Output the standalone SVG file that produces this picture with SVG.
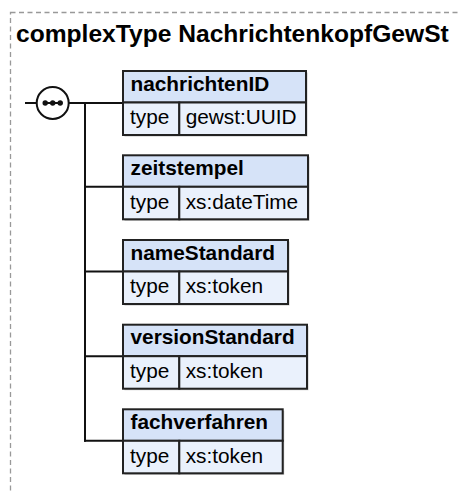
<svg xmlns="http://www.w3.org/2000/svg" width="461" height="493" viewBox="0 0 461 493">
<style>
  .frame { fill: none; stroke: #999; stroke-width: 1.3; stroke-dasharray: 5 3.5; }
  .title { font-family: "Liberation Sans", Arial, sans-serif; font-weight: bold; font-size: 24.6px; fill: #000; }
  .hdr { fill: #d6e3f8; stroke: #222; stroke-width: 2; }
  .row { fill: #eaf1fc; stroke: #222; stroke-width: 2; }
  .shadow { fill: #888; opacity: 0.5; }
  .name { font-family: "Liberation Sans", Arial, sans-serif; font-weight: bold; font-size: 20.8px; fill: #000; }
  .val { font-family: "Liberation Sans", Arial, sans-serif; font-size: 20.8px; fill: #000; }
  .line { fill: none; stroke: #111; stroke-width: 2; }
</style>
<rect x="0" y="0" width="461" height="493" fill="#fff"/>
<rect class="frame" x="10.5" y="12.5" width="470" height="500"/>
<text class="title" x="16" y="42">complexType NachrichtenkopfGewSt</text>

<g id="connectors">
  <line class="line" x1="25" y1="103" x2="36.5" y2="103"/>
  <line class="line" x1="69" y1="103" x2="123" y2="103"/>
  <line class="line" x1="85" y1="102" x2="85" y2="441.8"/>
  <line class="line" x1="85" y1="186.8" x2="123" y2="186.8"/>
  <line class="line" x1="85" y1="271.5" x2="123" y2="271.5"/>
  <line class="line" x1="85" y1="356.2" x2="123" y2="356.2"/>
  <line class="line" x1="84" y1="440.8" x2="123" y2="440.8"/>
</g>

<g id="sequence">
  <circle cx="52.7" cy="103" r="16" fill="#fff" stroke="#111" stroke-width="2"/>
  <line x1="43" y1="103" x2="62.5" y2="103" stroke="#111" stroke-width="2"/>
  <circle cx="45.2" cy="103" r="2.7" fill="#111"/>
  <circle cx="52.7" cy="103" r="2.7" fill="#111"/>
  <circle cx="60.2" cy="103" r="2.7" fill="#111"/>
</g>

<g id="nachrichtenID">
  <rect class="shadow" x="124.5" y="72.5" width="183" height="64"/>
  <rect class="hdr" x="123" y="71" width="183" height="31.5"/>
  <rect class="row" x="123" y="102.5" width="56.3" height="32.5"/>
  <rect class="row" x="179.3" y="102.5" width="126.7" height="32.5"/>
  <text class="name" x="130.5" y="90.7">nachrichtenID</text>
  <text class="val" x="130" y="124.3">type</text>
  <text class="val" x="185.7" y="124.3">gewst:UUID</text>
</g>

<g id="zeitstempel">
  <rect class="shadow" x="124.5" y="156.8" width="185" height="64"/>
  <rect class="hdr" x="123" y="155.3" width="185" height="31.5"/>
  <rect class="row" x="123" y="186.8" width="56.3" height="32.5"/>
  <rect class="row" x="179.3" y="186.8" width="128.7" height="32.5"/>
  <text class="name" x="130.5" y="175">zeitstempel</text>
  <text class="val" x="130" y="208.6">type</text>
  <text class="val" x="185.7" y="208.6">xs:dateTime</text>
</g>

<g id="nameStandard">
  <rect class="shadow" x="124.5" y="241.5" width="165" height="64"/>
  <rect class="hdr" x="123" y="240" width="165" height="31.5"/>
  <rect class="row" x="123" y="271.5" width="56.3" height="32.5"/>
  <rect class="row" x="179.3" y="271.5" width="108.7" height="32.5"/>
  <text class="name" x="130.5" y="259.7">nameStandard</text>
  <text class="val" x="130" y="293.3">type</text>
  <text class="val" x="185.7" y="293.3">xs:token</text>
</g>

<g id="versionStandard">
  <rect class="shadow" x="124.5" y="326.2" width="184" height="64"/>
  <rect class="hdr" x="123" y="324.7" width="184" height="31.5"/>
  <rect class="row" x="123" y="356.2" width="56.3" height="32.5"/>
  <rect class="row" x="179.3" y="356.2" width="127.7" height="32.5"/>
  <text class="name" x="130.5" y="344.4">versionStandard</text>
  <text class="val" x="130" y="378">type</text>
  <text class="val" x="185.7" y="378">xs:token</text>
</g>

<g id="fachverfahren">
  <rect class="shadow" x="124.5" y="410.8" width="159.7" height="64"/>
  <rect class="hdr" x="123" y="409.3" width="159.7" height="31.5"/>
  <rect class="row" x="123" y="440.8" width="56.3" height="32.5"/>
  <rect class="row" x="179.3" y="440.8" width="103.4" height="32.5"/>
  <text class="name" x="130.5" y="429">fachverfahren</text>
  <text class="val" x="130" y="462.6">type</text>
  <text class="val" x="185.7" y="462.6">xs:token</text>
</g>
</svg>
